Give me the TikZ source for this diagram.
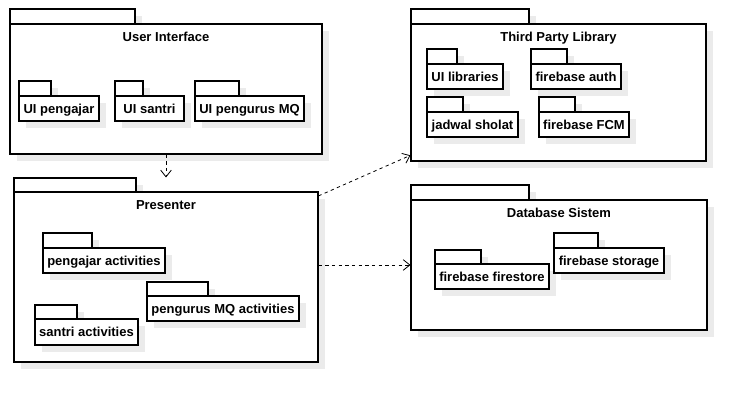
\documentclass[tikz,border=0pt]{standalone}
\usepackage{fontspec}
\setmainfont{Liberation Sans}
\usetikzlibrary{arrows.meta,positioning,fit,shadows}
\tikzstyle{pkgbody} = [draw, fill=white, rectangle, inner sep=0pt, line width=0.8pt, drop shadow={shadow xshift=5pt, shadow yshift=-5pt, fill=black!8, opacity=1}]
\tikzstyle{pkgtab} = [pkgbody]
\tikzstyle{pkg} = [pkgbody]
\tikzstyle{pkgname} = [font=\fontsize{9.75}{11}\selectfont\bfseries, inner sep=0pt, text height=7pt, text depth=0pt]
\tikzstyle{title} = [font=\fontsize{9.75}{11}\selectfont\bfseries, inner sep=0pt, text height=7pt, text depth=2pt]
\tikzstyle{dep} = [dash pattern=on 2.5pt off 2.5pt, ->, line width=0.6pt]

\begin{document}
\begin{tikzpicture}[x=0.75pt, y=-0.75pt, >={Straight Barb[length=5pt,width=8pt]}]
    \useasboundingbox (0,0) rectangle (747,402);
    % User Interface
    \node [pkgtab, fit={(10,9) (135,24)}] (ui-tab) {};
    \node [pkgbody, fit={(10,24) (322,154)}] (ui) {};
    \node [title, below=6.2pt of ui.north] (ui-title) {User Interface};
    \node [pkgtab, fit={(19,81) (51,96)}] (ui-pengajar-tab) {};
    \node [pkg, fit={(19,96) (99,121)}] (ui-pengajar) {};
    \node [pkgname] (ui-pengajar-name) at (ui-pengajar.center) {UI pengajar};
    \node [pkgtab, fit={(115,81) (143,96)}] (ui-santri-tab) {};
    \node [pkg, fit={(115,96) (184,121)}] (ui-santri) {};
    \node [pkgname] (ui-santri-name) at (ui-santri.center) {UI santri};
    \node [pkgtab, fit={(195,81) (239,96)}] (ui-pengurus-tab) {};
    \node [pkg, fit={(195,96) (304,121)}] (ui-pengurus) {};
    \node [pkgname] (ui-pengurus-name) at (ui-pengurus.center) {UI pengurus MQ};

    % Presenter
    \node [pkgtab, fit={(14,178) (136,192)}] (presenter-tab) {};
    \node [pkgbody, fit={(14,192) (318,362)}] (presenter) {};
    \node [title, below=6.5pt of presenter.north] (presenter-title) {Presenter};
    \node [pkgtab, fit={(43,233) (92,248)}] (act-pengajar-tab) {};
    \node [pkg, fit={(43,248) (165,273)}] (act-pengajar) {};
    \node [pkgname] (act-pengajar-name) at (act-pengajar.center) {pengajar activities};
    \node [pkgtab, fit={(147,282) (208,296)}] (act-pengurus-tab) {};
    \node [pkg, fit={(147,296) (299,321)}] (act-pengurus) {};
    \node [pkgname] (act-pengurus-name) at (act-pengurus.center) {pengurus MQ activities};
    \node [pkgtab, fit={(35,305) (77,319)}] (act-santri-tab) {};
    \node [pkg, fit={(35,319) (138,345)}] (act-santri) {};
    \node [pkgname] (act-santri-name) at (act-santri.center) {santri activities};

    % Third Party Library
    \node [pkgtab, fit={(411,9) (529,24)}] (tpl-tab) {};
    \node [pkgbody, fit={(411,24) (706,161)}] (tpl) {};
    \node [title, below=6.2pt of tpl.north] (tpl-title) {Third Party Library};
    \node [pkgtab, fit={(427,49) (457,64)}] (lib-ui-tab) {};
    \node [pkg, fit={(427,64) (503,89)}] (lib-ui) {};
    \node [pkgname] (lib-ui-name) at (lib-ui.center) {UI libraries};
    \node [pkgtab, fit={(531,49) (567,64)}] (lib-auth-tab) {};
    \node [pkg, fit={(531,64) (621,89)}] (lib-auth) {};
    \node [pkgname] (lib-auth-name) at (lib-auth.center) {firebase auth};
    \node [pkgtab, fit={(427,97) (463,112)}] (lib-sholat-tab) {};
    \node [pkg, fit={(427,112) (518,137)}] (lib-sholat) {};
    \node [pkgname] (lib-sholat-name) at (lib-sholat.center) {jadwal sholat};
    \node [pkgtab, fit={(539,97) (575,112)}] (lib-fcm-tab) {};
    \node [pkg, fit={(539,112) (629,137)}] (lib-fcm) {};
    \node [pkgname] (lib-fcm-name) at (lib-fcm.center) {firebase FCM};

    % Database Sistem
    \node [pkgtab, fit={(411,185) (529,200)}] (db-tab) {};
    \node [pkgbody, fit={(411,200) (707,330)}] (db) {};
    \node [title, below=6.2pt of db.north] (db-title) {Database Sistem};
    \node [pkgtab, fit={(435,250) (481,264)}] (db-firestore-tab) {};
    \node [pkg, fit={(435,264) (549,289)}] (db-firestore) {};
    \node [pkgname] (db-firestore-name) at (db-firestore.center) {firebase firestore};
    \node [pkgtab, fit={(554,233) (598,248)}] (db-storage-tab) {};
    \node [pkg, fit={(554,248) (664,273)}] (db-storage) {};
    \node [pkgname] (db-storage-name) at (db-storage.center) {firebase storage};

    % Connections
    \draw [dep] (ui.south) -- (ui.south |- presenter-tab.north);
    \draw [dep] (presenter.28) -- (tpl.203);
    \draw [dep] (presenter.east |- db.west) -- (db.west);
\end{tikzpicture}
\end{document}
